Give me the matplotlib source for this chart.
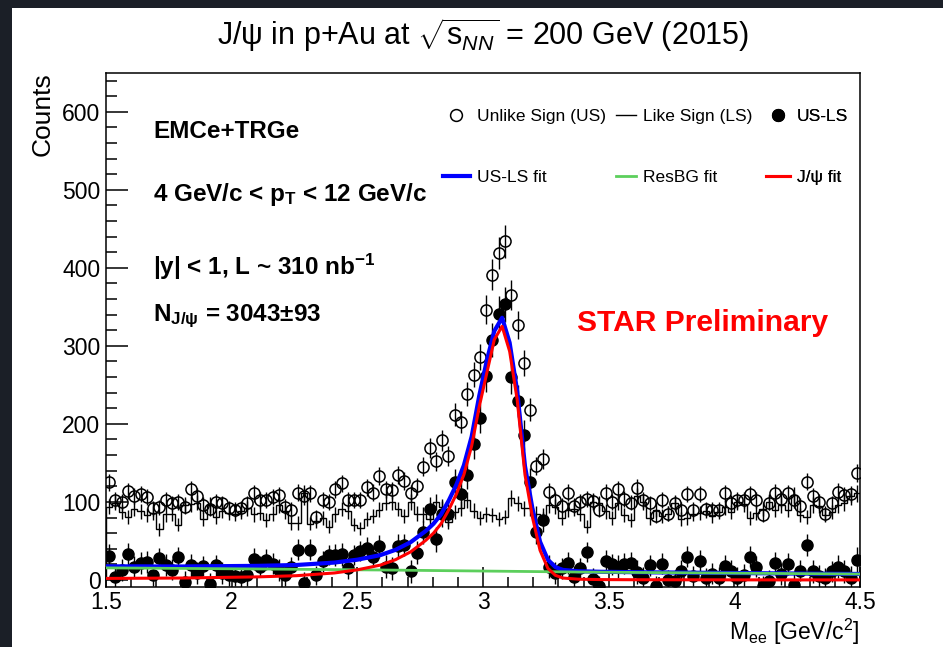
import numpy as np
import matplotlib
matplotlib.use("Agg")
import matplotlib.pyplot as plt
from matplotlib.lines import Line2D
from matplotlib.patches import Rectangle
from matplotlib.ticker import MultipleLocator, FuncFormatter

plt.rcParams["font.family"] = ["Liberation Sans", "DejaVu Sans"]
plt.rcParams["mathtext.fontset"] = "custom"
plt.rcParams["mathtext.rm"] = "Liberation Sans"
plt.rcParams["mathtext.it"] = "Liberation Sans:italic"
plt.rcParams["mathtext.bf"] = "Liberation Sans:bold"

# histogram binning: 120 bins of 25 MeV between 1.5 and 4.5 GeV/c^2
bin_edges = np.linspace(1.5, 4.5, 121)

# unlike-sign pairs
us = [125, 103, 100, 114, 108, 110, 106, 92, 93, 103, 98, 100, 94, 116, 108, 96, 91, 100, 98, 92,
      90, 92, 98, 111, 103, 103, 106, 109, 94, 90, 112, 107, 111, 81, 103, 100, 116, 124, 103, 103,
      103, 119, 112, 133, 116, 115, 135, 127, 111, 120, 145, 169, 152, 179, 159, 212, 202, 238, 263, 286,
      346, 391, 419, 434, 365, 327, 278, 218, 146, 155, 113, 103, 95, 112, 95, 100, 104, 101, 90, 112,
      100, 116, 104, 99, 118, 102, 98, 82, 103, 85, 98, 90, 110, 90, 110, 91, 90, 90, 111, 99,
      102, 103, 110, 103, 83, 99, 112, 104, 111, 103, 95, 126, 107, 100, 85, 98, 113, 109, 110, 137]

# like-sign pairs
ls = [94, 99, 87, 81, 91, 88, 83, 86, 65, 84, 85, 71, 96, 97, 99, 78, 96, 81, 89, 86,
      85, 88, 92, 84, 86, 77, 85, 96, 88, 73, 73, 111, 72, 75, 79, 68, 84, 91, 88, 71,
      66, 78, 82, 90, 99, 100, 91, 82, 100, 85, 84, 78, 100, 94, 74, 87, 92, 103, 89, 79,
      84, 83, 78, 81, 105, 98, 92, 92, 85, 78, 96, 94, 80, 90, 91, 85, 68, 100, 98, 88,
      80, 99, 83, 77, 108, 100, 79, 90, 82, 85, 99, 78, 80, 85, 86, 89, 82, 87, 93, 87,
      100, 97, 80, 86, 91, 100, 90, 96, 90, 109, 83, 81, 96, 95, 83, 87, 96, 98, 107, 111]

# unlike-sign minus like-sign
us_ls = [31, 4, 13, 33, 17, 22, 23, 6, 28, 19, 13, 29, -2, 19, 9, 18, -5, 19, 9, 6,
         5, 4, 6, 27, 17, 26, 21, 13, 6, 17, 39, -4, 39, 6, 24, 32, 32, 33, 15, 32,
         37, 41, 30, 43, 17, 15, 44, 45, 11, 35, 61, 91, 52, 85, 85, 125, 110, 135, 174, 207,
         262, 308, 341, 353, 260, 229, 186, 126, 61, 77, 17, 9, 15, 22, 4, 15, 36, 1, -8, 24,
         20, 17, 21, 22, 10, 2, 19, -8, 21, 0, -1, 12, 30, 5, 24, 2, 8, 3, 18, 12,
         2, 6, 30, 17, -8, -1, 22, 8, 21, -6, 12, 45, 11, 5, 2, 11, 17, 11, 3, 26]

# fitted curves, read at the points where the fit polyline is drawn
fit_mass = [1.5, 1.803, 2.106, 2.258, 2.409, 2.5, 2.591, 2.652, 2.712, 2.773, 2.803, 2.833,
            2.864, 2.894, 2.924, 2.955, 2.985, 3.015, 3.045, 3.076, 3.106, 3.136, 3.167, 3.197,
            3.227, 3.258, 3.288, 3.318, 3.379, 3.470, 3.621, 3.924, 4.227, 4.5]
fit_total = [17.5, 17.3, 18.1, 19.2, 22.3, 26, 31.8, 38.6, 48.4, 63, 72, 84,
             102, 122, 147, 184, 236, 281, 319, 336, 304, 242, 146, 91,
             49, 26, 16.5, 12.9, 11.2, 10.5, 9.9, 9.1, 8.3, 7.7]
fit_resbg = [15.5, 14.8, 14.1, 13.7, 13.3, 13.0, 12.8, 12.6, 12.4, 12.2, 12.1, 12.0,
             11.9, 11.8, 11.7, 11.6, 11.5, 11.4, 11.3, 11.2, 11.1, 11.0, 10.9, 10.8,
             10.7, 10.6, 10.5, 10.4, 10.2, 10.0, 9.6, 8.9, 8.2, 7.6]
fit_jpsi = [2, 2.5, 4, 5.5, 9, 13, 19, 26, 36, 51, 60, 72,
            90, 110, 135, 172, 222, 265, 308, 325, 293, 231, 135, 80,
            38, 15, 6, 2.5, 1, 0.5, 0.3, 0.2, 0.1, 0.1]

us = np.array(us, dtype=float)
ls = np.array(ls, dtype=float)
us_ls = np.array(us_ls, dtype=float)
mass = 0.5 * (bin_edges[:-1] + bin_edges[1:])

fig = plt.figure(figsize=(9.43, 6.47), dpi=100, facecolor="#1b1f27")
# white canvas, dark strip left and top like the screenshot
fig.patches.append(Rectangle((12 / 943, 0), 1, 639 / 647, transform=fig.transFigure,
                             facecolor="white", edgecolor="none", zorder=-10))
ax = fig.add_axes([106 / 943, 60 / 647, 754 / 943, 514.3 / 647])

ax.stairs(ls, bin_edges, color="black", lw=1.0, zorder=2)
ax.errorbar(mass, ls, yerr=np.sqrt(ls), fmt="none", ecolor="black", elinewidth=1.0, zorder=2)
ax.errorbar(mass, us, yerr=np.sqrt(us), fmt="o", mfc="none", mec="black", mew=1.1, ms=8,
            ecolor="black", elinewidth=1.0, zorder=3)
ax.errorbar(mass, us_ls, yerr=np.sqrt(us + ls), fmt="o", color="black", ms=8,
            elinewidth=1.0, zorder=3)

ax.plot(fit_mass, fit_total, color="blue", lw=3.0, zorder=4)
ax.plot(fit_mass, fit_resbg, color="#5ccf5c", lw=2.0, zorder=5)
ax.plot(fit_mass, fit_jpsi, color="red", lw=2.2, zorder=6)

ax.set_xlim(1.5, 4.5)
ax.set_ylim(-9, 650)
ax.xaxis.set_major_locator(MultipleLocator(0.5))
ax.xaxis.set_minor_locator(MultipleLocator(0.1))
ax.yaxis.set_major_locator(MultipleLocator(100))
ax.yaxis.set_minor_locator(MultipleLocator(20))
ax.xaxis.set_major_formatter(FuncFormatter(lambda v, p: "%g" % v))
ax.tick_params(which="both", direction="in", top=False, right=False, width=1.1, labelsize=16.5)
ax.tick_params(axis="y", which="major", length=15.5, pad=4)
ax.tick_params(axis="y", which="minor", length=8)
ax.tick_params(axis="x", which="major", length=14.5, pad=3)
ax.tick_params(axis="x", which="minor", length=7.2)
for sp in ax.spines.values():
    sp.set_linewidth(1.1)

ax.set_ylabel("Counts", fontsize=19, loc="top")
ax.yaxis.set_label_coords(-0.068, 1.0)
ax.set_xlabel(r"M$_{\mathrm{ee}}$ [GeV/c$^{\mathrm{2}}$]", fontsize=16.5, loc="right")
ax.xaxis.set_label_coords(1.0, -0.058)

fig.text(483 / 943, 1 - 45 / 647,
         r"J/ψ in p+Au at $\sqrt{\mathrm{s}_{NN}}$ = 200 GeV (2015)",
         ha="center", va="baseline", fontsize=22)

# selection and yield annotations
ax.text(0.0623, 0.8724, "EMCe+TRGe", transform=ax.transAxes, fontsize=17.5, fontweight="bold")
ax.text(0.0623, 0.751, r"4 GeV/c < $\mathbf{p_T}$ < 12 GeV/c", transform=ax.transAxes,
        fontsize=17.5, fontweight="bold")
ax.text(0.0623, 0.6067, r"|y| < 1, L ~ 310 $\mathbf{nb^{-1}}$", transform=ax.transAxes,
        fontsize=17.5, fontweight="bold")
ax.text(0.0623, 0.5178, r"$\mathbf{N_{J/ψ}}$ = 3043±93", transform=ax.transAxes,
        fontsize=17.5, fontweight="bold")
ax.text(0.6247, 0.4978, "STAR Preliminary", transform=ax.transAxes, fontsize=21.6,
        fontweight="bold", color="red")

# legend, three columns of two rows
h_us = Line2D([], [], marker="o", mfc="none", mec="black", mew=1.1, ms=8.5, ls="none")
h_ls = Line2D([], [], color="black", lw=1.0)
h_usls = Line2D([], [], marker="o", color="black", ms=8.5, ls="none")
h_tot = Line2D([], [], color="blue", lw=3.0)
h_res = Line2D([], [], color="#5ccf5c", lw=2.0)
h_jpsi = Line2D([], [], color="red", lw=2.2)

columns = [
    ([h_us, h_tot], ["Unlike Sign (US)", "US-LS fit"], 0.447, 1.55),
    ([h_ls, h_res], ["Like Sign (LS)", "ResBG fit"], 0.676, 1.17),
    ([h_usls, h_jpsi], ["US-LS", "J/ψ fit"], 0.875, 1.38),
]
for handles, labels, x0, hl in columns:
    leg = ax.legend(handles, labels, loc="upper left", bbox_to_anchor=(x0, 0.929),
                    frameon=False, fontsize=12.5, handlelength=hl, handletextpad=0.4,
                    labelspacing=2.62, borderpad=0, borderaxespad=0, numpoints=1)
    ax.add_artist(leg)

fig.savefig("out.png", dpi=100, facecolor=fig.get_facecolor())
